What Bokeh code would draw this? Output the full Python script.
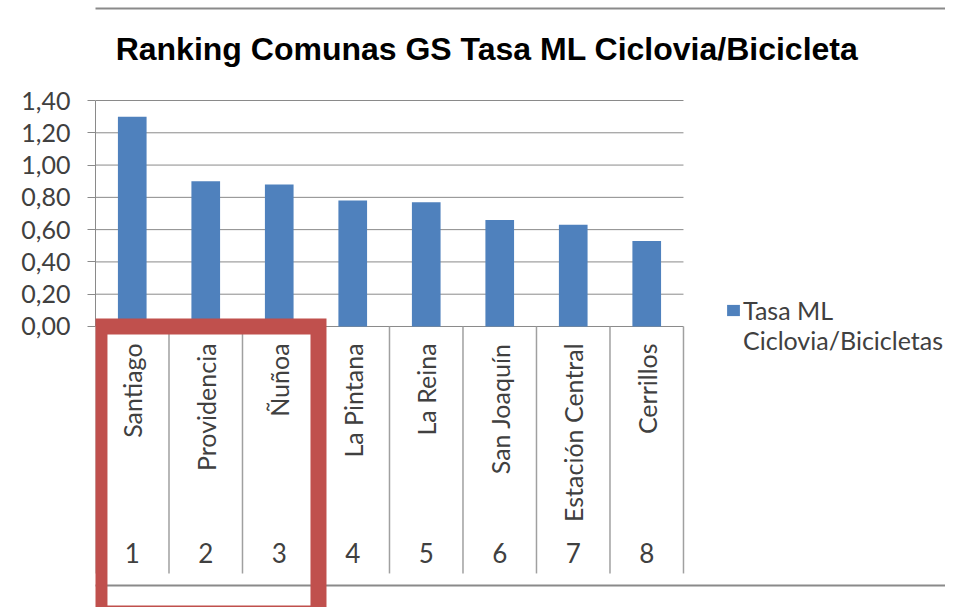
import math
from bokeh.plotting import figure
from bokeh.models import Range1d, FixedTicker, Label, BoxAnnotation, Legend, LegendItem
from bokeh.core.properties import value
from bokeh.embed import file_html
from bokeh.resources import INLINE

# ---- data ----
comunas = ["Santiago", "Providencia", "Ñuñoa", "La Pintana", "La Reina",
           "San Joaquín", "Estación Central", "Cerrillos"]
ranking = ["1", "2", "3", "4", "5", "6", "7", "8"]
tasa = [1.30, 0.90, 0.88, 0.78, 0.77, 0.66, 0.63, 0.53]
y_ticks = [0.0, 0.2, 0.4, 0.6, 0.8, 1.0, 1.2, 1.4]
y_tick_labels = ["0,00", "0,20", "0,40", "0,60", "0,80", "1,00", "1,20", "1,40"]
series_lines = ["Tasa ML", "Ciclovia/Bicicletas"]
chart_title = "Ranking Comunas GS Tasa ML Ciclovia/Bicicleta"

n = len(comunas)
xc = [i + 0.5 for i in range(n)]
sep_x = list(range(n + 1))
y_max = y_ticks[-1]

W, H = 945, 607
p = figure(width=W, height=H, output_backend="svg", toolbar_location=None,
           x_range=Range1d(0, 11.565), y_range=Range1d(-1.741, 2.0196),
           x_axis_location=None,
           min_border_left=95, min_border_right=0, min_border_top=0,
           min_border_bottom=0)
p.outline_line_color = None
p.background_fill_color = "white"
p.border_fill_color = "white"

# grid / axis
p.xgrid.visible = False
p.ygrid.visible = False
p.segment(x0=0, x1=n, y0=y_ticks, y1=y_ticks, line_color="#8a8a8a", line_width=1)
p.yaxis.ticker = FixedTicker(ticks=y_ticks)
p.yaxis.bounds = (0, y_max)
p.yaxis.major_label_overrides = dict(zip(y_ticks, y_tick_labels))
p.yaxis.axis_line_color = "#8a8a8a"
p.yaxis.major_tick_line_color = "#8a8a8a"
p.yaxis.major_tick_out = 8
p.yaxis.major_tick_in = 0
p.yaxis.minor_tick_line_color = None
p.yaxis.major_label_standoff = 17
p.yaxis.major_label_text_font = "Lato"
p.yaxis.major_label_text_font_size = "25px"
p.yaxis.major_label_text_color = "#404040"

# category separators
p.segment(x0=sep_x, y0=0, x1=sep_x, y1=-1.53, line_color="#a0a0a0", line_width=1.5)

bars = p.vbar(x=xc, top=tasa, width=0.39, fill_color="#4F81BD", line_color=None)
# invisible renderer used only for the legend's second text line
blank = p.vbar(x=[], top=[], width=0.39, fill_alpha=0, line_alpha=0)

p.text(x=xc, y=-0.105, text=comunas, angle=math.pi / 2, text_align="right",
       text_baseline="middle", text_font=value("Lato"), text_font_size="25px",
       text_color="#404040")
p.text(x=xc, y=-1.406, text=ranking, text_align="center", text_baseline="middle",
       text_font=value("Lato"), text_font_size="26px", text_color="#404040")

# outer chart border
p.add_layout(BoxAnnotation(left=-1.3, right=12.5, top=1.970, bottom=-1.605,
                           fill_alpha=0, line_color="#8a8a8a", line_alpha=1,
                           line_width=2))
# red highlight box
p.add_layout(BoxAnnotation(left=0.054, right=3.034, top=0.0, bottom=-1.778,
                           fill_alpha=0, line_color="#C0504D", line_alpha=1,
                           line_width=16, line_join="miter"))

p.add_layout(Label(x=5.327, y=1.72, text=chart_title, text_align="center",
                   text_baseline="middle", text_font="Liberation Sans",
                   text_font_style="bold", text_font_size="32px", text_color="black"))

legend = Legend(items=[LegendItem(label=series_lines[0], renderers=[bars]),
                       LegendItem(label=series_lines[1], renderers=[blank])],
                location=(630, 252), padding=0, margin=0, spacing=0,
                border_line_color=None, background_fill_alpha=0,
                glyph_width=16, glyph_height=14, label_standoff=2,
                label_text_font="Lato", label_text_font_size="25px",
                label_text_color="#404040")
p.add_layout(legend)

open("out.html", "w").write(file_html(p, INLINE))
